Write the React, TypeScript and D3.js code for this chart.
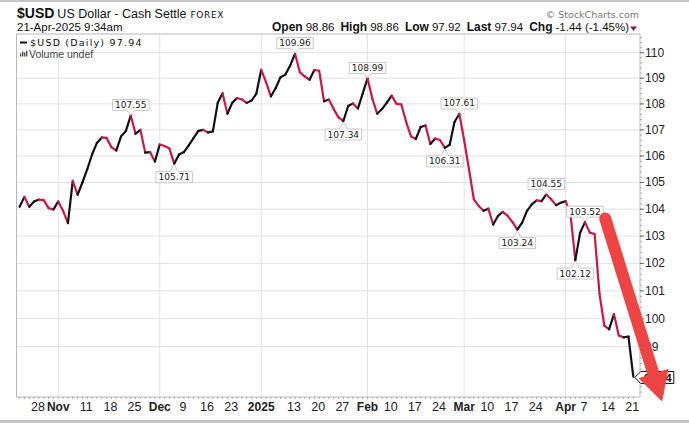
import React, { useRef, useEffect } from "react";
import * as d3 from "d3";

const chart_width = 689;
const chart_height = 423;
const plot = { left: 16.5, right: 640, top: 34, bottom: 397 };

const up_color = "#111111";
const down_color = "#cc1744";
const arrow_color = "#ef4444";

// holidays skipped by the daily forex feed
const holidays = ["2024-12-25", "2025-01-01"];

// daily closes, 22-Oct-2024 .. 21-Apr-2025
const closes: number[] = [
  104.09, 104.46, 104.09, 104.29, 104.36, 104.34, 104.04, 103.99, 104.29, 103.94,
  103.48, 105.06, 104.54, 105.0, 105.5, 106.06, 106.5, 106.71, 106.69, 106.34,
  106.21, 106.75, 106.96, 107.55, 106.85, 107.0, 106.13, 106.15, 105.79, 106.44,
  106.38, 106.29, 105.71, 106.06, 106.15, 106.41, 106.68, 106.96, 107.0, 106.9,
  106.94, 108.04, 108.41, 107.62, 108.04, 108.23, 108.17, 108.04, 108.13, 108.4,
  109.33, 108.85, 108.29, 108.62, 109.04, 109.14, 109.5, 109.96, 109.23, 109.07,
  108.94, 109.32, 109.29, 108.1, 108.17, 107.8, 107.48, 107.34, 107.92, 108.02,
  107.82, 108.4, 108.99, 108.2, 107.62, 107.8, 108.05, 108.32, 108.0, 107.98,
  107.3, 106.75, 106.65, 107.11, 107.17, 106.46, 106.67, 106.61, 106.31, 106.43,
  107.3, 107.61, 106.6, 105.5, 104.37, 104.12, 103.94, 104.02, 103.43, 103.75,
  103.9, 103.75, 103.52, 103.24, 103.5, 103.94, 104.18, 104.33, 104.3, 104.55,
  104.37, 104.15, 104.24, 104.3, 103.81, 102.12, 103.13, 103.52, 103.13, 103.08,
  100.9, 99.75, 99.62, 100.16, 99.4, 99.33, 99.36, 97.94,
];

// days that get a value tag (swing highs / lows)
const labelDays = [
  "2024-11-22", "2024-12-05", "2025-01-13", "2025-01-27", "2025-02-03",
  "2025-02-25", "2025-02-28", "2025-03-18", "2025-03-26", "2025-04-03", "2025-04-07",
];

const yTicks = [99, 100, 101, 102, 103, 104, 105, 106, 107, 108, 109, 110];

const xTickDates = [
  "2024-10-28", "2024-11-01", "2024-11-11", "2024-11-18", "2024-11-25",
  "2024-12-02", "2024-12-09", "2024-12-16", "2024-12-23", "2025-01-02",
  "2025-01-13", "2025-01-20", "2025-01-27", "2025-02-03", "2025-02-10",
  "2025-02-17", "2025-02-24", "2025-03-03", "2025-03-10", "2025-03-17",
  "2025-03-24", "2025-04-01", "2025-04-07", "2025-04-14", "2025-04-21",
];
const xTickLabels = [
  "28", "Nov", "11", "18", "25", "Dec", "9", "16", "23", "2025", "13", "20", "27",
  "Feb", "10", "17", "24", "Mar", "10", "17", "24", "Apr", "7", "14", "21",
];
const monthLabels = ["Nov", "Dec", "2025", "Feb", "Mar", "Apr"];

// hand-drawn arrow, in (day index, price)
const arrowFrom = { i: 121.2, p: 103.65 };
const arrowTo = { i: 132.9, p: 97.1 };

const quote = [
  ["Open", "98.86"],
  ["High", "98.86"],
  ["Low", "97.92"],
  ["Last", "97.94"],
  ["Chg", "-1.44 (-1.45%)"],
];

const fmtDay = d3.timeFormat("%Y-%m-%d");
const tradingDays = d3.timeDay
  .range(new Date(2024, 9, 22), new Date(2025, 3, 22))
  .filter((d) => d.getDay() !== 0 && d.getDay() !== 6 && !holidays.includes(fmtDay(d)))
  .map(fmtDay);

const sans = "'Liberation Sans', Arial, sans-serif";
const narrow = "'Liberation Sans Narrow', 'Liberation Sans', Arial, sans-serif";
const verd = "'DejaVu Sans', Verdana, sans-serif";

const App: React.FC = () => {
  const d3Container = useRef<SVGSVGElement>(null);

  useEffect(() => {
    if (!d3Container.current) return;
    const svg = d3.select(d3Container.current);
    svg.selectAll("*").remove();

    const x = d3.scaleLinear().domain([0, tradingDays.length - 1]).range([19.6, 633.3]);
    const xd = (day: string) => x(tradingDays.indexOf(day));
    const y = d3.scaleLog().domain([97.23, 110.74]).range([plot.bottom, plot.top]);

    svg.append("rect").attr("width", chart_width).attr("height", chart_height).attr("fill", "#fff");
    svg.append("rect").attr("x", 0).attr("y", 0).attr("width", chart_width).attr("height", 2).attr("fill", "#c4c4c4");
    svg.append("rect").attr("x", 0).attr("y", 420).attr("width", chart_width).attr("height", 3).attr("fill", "#c4c4c4");

    // header
    const title = svg.append("text").attr("x", 17).attr("y", 18).attr("fill", "#111");
    title.append("tspan").attr("font-family", sans).attr("font-weight", "bold").attr("font-size", 14).text("$USD");
    title.append("tspan").attr("font-family", narrow).attr("font-size", 12.5).attr("dx", 3).text("US Dollar - Cash Settle");
    title.append("tspan").attr("font-family", verd).attr("font-size", 9).attr("dx", 4).attr("letter-spacing", 0.6).text("FOREX");

    svg.append("text").attr("x", 17).attr("y", 31).attr("font-family", sans).attr("font-size", 11.5)
      .attr("fill", "#111").text("21-Apr-2025 9:34am");

    svg.append("text").attr("x", 639).attr("y", 18).attr("text-anchor", "end").attr("font-family", verd)
      .attr("font-size", 9.5).attr("fill", "#777").text("\u00a9 StockCharts.com");

    const q = svg.append("text").attr("x", 629).attr("y", 31).attr("text-anchor", "end").attr("fill", "#111");
    quote.forEach(([k, v], n) => {
      q.append("tspan").attr("font-family", sans).attr("font-weight", "bold").attr("font-size", 12)
        .attr("dx", n === 0 ? 0 : 6).text(k);
      q.append("tspan").attr("font-family", sans).attr("font-size", 11.5).attr("dx", 3).text(v);
    });
    svg.append("path").attr("d", "M630,26.5 L637,26.5 L633.5,31 Z").attr("fill", "#8b1a3a");

    // grid
    svg.append("g").selectAll("line").data(yTicks).enter().append("line")
      .attr("x1", plot.left).attr("x2", plot.right)
      .attr("y1", (d) => y(d)).attr("y2", (d) => y(d))
      .attr("stroke", "#e2e2e2");
    const monthDays = xTickDates.filter((_, n) => monthLabels.includes(xTickLabels[n]));
    svg.append("g").selectAll("line").data(monthDays).enter().append("line")
      .attr("x1", (d) => xd(d)).attr("x2", (d) => xd(d))
      .attr("y1", plot.top).attr("y2", plot.bottom)
      .attr("stroke", "#e2e2e2");

    svg.append("rect").attr("x", plot.left).attr("y", plot.top)
      .attr("width", plot.right - plot.left).attr("height", plot.bottom - plot.top)
      .attr("fill", "none").attr("stroke", "#b8b8b8");

    // minor ticks
    svg.append("g").selectAll("line").data(tradingDays).enter().append("line")
      .attr("x1", (d, n) => x(n)).attr("x2", (d, n) => x(n))
      .attr("y1", plot.bottom).attr("y2", plot.bottom + 2)
      .attr("stroke", "#aaa");
    svg.append("g").selectAll("line").data(d3.range(97.4, 110.7, 0.2)).enter().append("line")
      .attr("x1", plot.right).attr("x2", plot.right + 2)
      .attr("y1", (d) => y(d)).attr("y2", (d) => y(d))
      .attr("stroke", "#aaa");

    // y axis
    const ya = svg.append("g");
    ya.selectAll("line").data(yTicks).enter().append("line")
      .attr("x1", plot.right).attr("x2", plot.right + 4)
      .attr("y1", (d) => y(d)).attr("y2", (d) => y(d))
      .attr("stroke", "#666");
    ya.selectAll("text").data(yTicks).enter().append("text")
      .attr("x", plot.right + 5).attr("y", (d) => y(d) + 4)
      .attr("font-family", narrow).attr("font-size", 12).attr("fill", "#222")
      .text((d) => d);

    // x axis
    svg.append("g").selectAll("text").data(xTickDates).enter().append("text")
      .attr("x", (d, n) => xd(d) - (monthLabels.includes(xTickLabels[n]) ? 0 : 1))
      .attr("y", 411)
      .attr("text-anchor", "middle")
      .attr("font-family", (d, n) => (monthLabels.includes(xTickLabels[n]) ? sans : narrow))
      .attr("font-weight", (d, n) => (monthLabels.includes(xTickLabels[n]) ? "bold" : "normal"))
      .attr("font-size", (d, n) => (monthLabels.includes(xTickLabels[n]) ? 12 : 12.5))
      .attr("fill", "#222")
      .text((d, n) => xTickLabels[n]);

    // price line, black on up days, red on down days (live bar stays black)
    const segs = d3.range(1, closes.length);
    svg.append("g").selectAll("line").data(segs).enter().append("line")
      .attr("x1", (n) => x(n - 1)).attr("y1", (n) => y(closes[n - 1]))
      .attr("x2", (n) => x(n)).attr("y2", (n) => y(closes[n]))
      .attr("stroke", (n) =>
        n === closes.length - 1 || closes[n] >= closes[n - 1] ? up_color : down_color)
      .attr("stroke-width", 2.2)
      .attr("stroke-linecap", "round");

    // swing tags
    labelDays.forEach((day) => {
      const n = tradingDays.indexOf(day);
      const v = closes[n];
      const high = v >= closes[n - 1] && v >= closes[n + 1];
      const px = x(n);
      const py = y(v);
      const g = svg.append("g");
      const path = g.append("path");
      const t = g.append("text").attr("text-anchor", "middle").attr("font-family", verd)
        .attr("font-size", 9).attr("fill", "#222").text(v.toFixed(2));
      const w = (t.node() as SVGTextElement).getComputedTextLength() + 5;
      const h = 11;
      const l = px - w / 2;
      const r = px + w / 2;
      if (high) {
        const b = py - 5;
        path.attr("d", `M${l},${b - h} H${r} V${b} H${px + 4} L${px},${py - 1} L${px - 4},${b} H${l} Z`);
        t.attr("x", px).attr("y", b - 2.5);
      } else {
        const tp = py + 8;
        path.attr("d", `M${l},${tp + h} H${r} V${tp} H${px + 4} L${px},${py + 1} L${px - 4},${tp} H${l} Z`);
        t.attr("x", px).attr("y", tp + h - 2.5);
      }
      path.attr("fill", "#fff").attr("stroke", "#c8c8c8");
    });

    // legend
    svg.append("line").attr("x1", 20).attr("x2", 27).attr("y1", 42.5).attr("y2", 42.5)
      .attr("stroke", "#111").attr("stroke-width", 2);
    svg.append("text").attr("x", 30).attr("y", 45.5).attr("font-family", verd).attr("font-size", 9.5)
      .attr("letter-spacing", 1.2).attr("fill", "#111").text("$USD (Daily) 97.94");
    [3, 5, 4, 6].forEach((bh, k) => {
      svg.append("rect").attr("x", 20 + k * 2).attr("y", 56.5 - bh).attr("width", 1.4).attr("height", bh).attr("fill", "#555");
    });
    svg.append("text").attr("x", 29).attr("y", 57.5).attr("font-family", sans).attr("font-size", 10.5)
      .attr("fill", "#444").text("Volume undef");

    // last value tag
    const ly = y(closes[closes.length - 1]) + 0.8;
    const lx = x(closes.length - 1) + 1.5;
    svg.append("path")
      .attr("d", `M${lx},${ly} L${lx + 6},${ly - 6} H${lx + 39} V${ly + 6} H${lx + 6} Z`)
      .attr("fill", "#fff").attr("stroke", "#111");
    svg.append("text").attr("x", lx + 23).attr("y", ly + 4).attr("text-anchor", "middle")
      .attr("font-family", sans).attr("font-weight", "bold").attr("font-size", 11)
      .attr("fill", "#111").text(closes[closes.length - 1].toFixed(2));

    // red arrow
    const sx = x(arrowFrom.i), sy = y(arrowFrom.p);
    const tx = x(arrowTo.i), ty = y(arrowTo.p);
    const len = Math.hypot(tx - sx, ty - sy);
    const ux = (tx - sx) / len, uy = (ty - sy) / len;
    const headLen = 28, headHalf = 15;
    const bx = tx - ux * headLen, by = ty - uy * headLen;
    svg.append("line").attr("x1", sx).attr("y1", sy).attr("x2", bx + ux * 2).attr("y2", by + uy * 2)
      .attr("stroke", arrow_color).attr("stroke-width", 12).attr("stroke-linecap", "round");
    svg.append("path")
      .attr("d", `M${tx},${ty} L${bx - uy * headHalf},${by + ux * headHalf} L${bx + uy * headHalf},${by - ux * headHalf} Z`)
      .attr("fill", arrow_color).attr("stroke", arrow_color).attr("stroke-linejoin", "round");
  }, []);

  return (
    <div style={{ position: "absolute", left: 0, top: 0 }}>
      <svg width={chart_width} height={chart_height} ref={d3Container} />
    </div>
  );
};

export default App;
